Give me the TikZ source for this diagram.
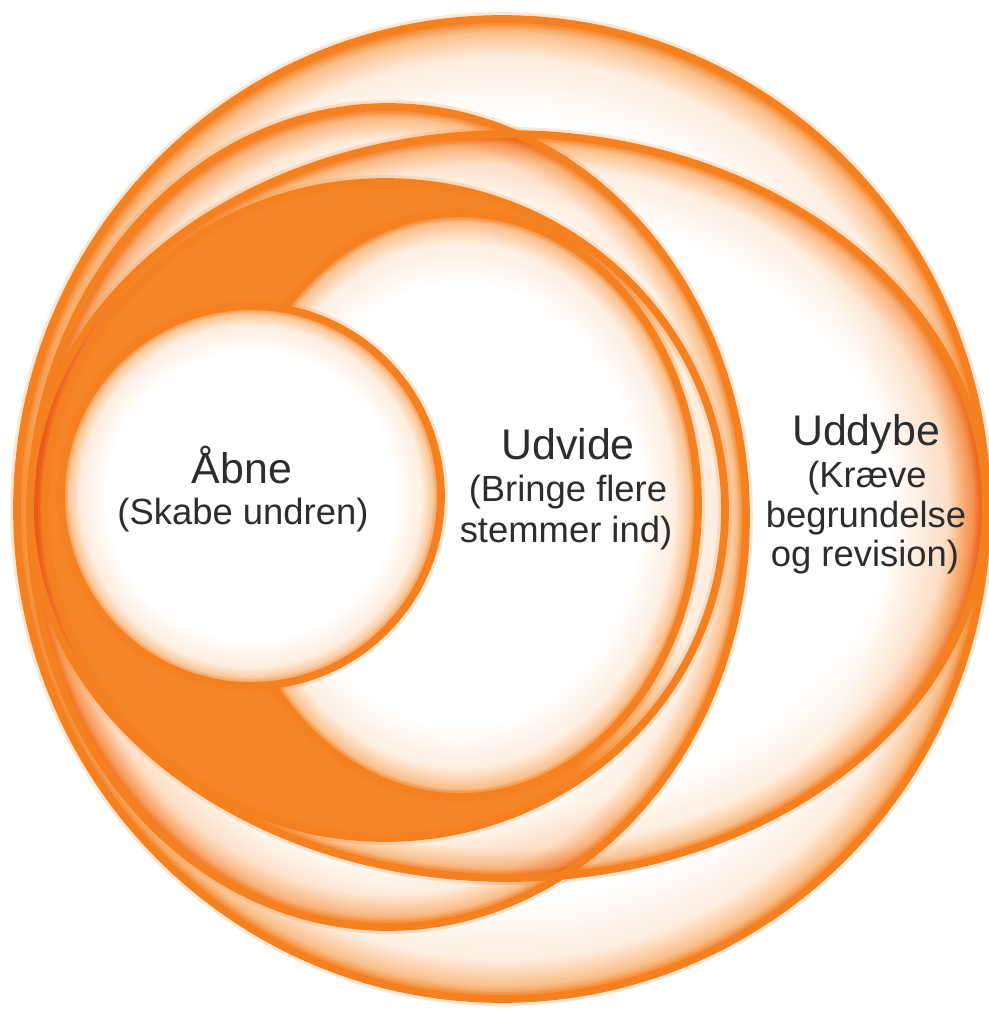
\documentclass[tikz,border=0pt]{standalone}
\usepackage{fontspec}
\setmainfont{Liberation Sans}
\definecolor{rimO}{RGB}{244,128,32}
\definecolor{rimM}{RGB}{250,192,140}
\definecolor{rimL}{RGB}{254,238,224}
\definecolor{bandD}{RGB}{245,134,40}
\definecolor{bandL}{RGB}{250,190,135}
\definecolor{txt}{RGB}{45,45,45}
\pgfdeclareradialshading{rimshade}{\pgfpointorigin}{%
  color(0bp)=(white); color(20bp)=(white); color(23bp)=(rimL);
  color(24.3bp)=(rimM); color(25bp)=(rimO); color(50bp)=(rimO)}
\pgfdeclareradialshading{smallrim}{\pgfpointorigin}{%
  color(0bp)=(white); color(19bp)=(white); color(22.5bp)=(rimL);
  color(24.2bp)=(rimM); color(25bp)=(rimO); color(50bp)=(rimO)}
\pgfdeclarehorizontalshading{bandshade}{100bp}{%
  color(0bp)=(bandD); color(64bp)=(bandD); color(69bp)=(bandL);
  color(72bp)=(rimL); color(100bp)=(rimL)}
\begin{document}
\begin{tikzpicture}[x=0.025cm,y=-0.025cm,
  outline/.style={draw=rimO, line width=5.5pt},
  halo/.style={draw=rimO, line width=10pt, draw opacity=0.18},
  rimfill/.style={shade, shading=rimshade},
  smallfill/.style={shade, shading=smallrim},
  bandfill/.style={shade, shading=bandshade},
  title/.style={font=\fontsize{30.5}{36}\selectfont, text=txt, anchor=base, inner sep=0pt},
  sub/.style={font=\fontsize{25.9}{31}\selectfont, text=txt, anchor=base, inner sep=0pt}]
\fill[white] (0,0) rectangle (989,1009);
\path[use as bounding box] (0,0) rectangle (989,1009);
% outer circle
\path[rimfill] (502,509) ellipse [x radius=485, y radius=490];
% second and third rings, layered
\begin{scope}[blend mode=multiply]
  \path[rimfill] (388,517) ellipse [x radius=358, y radius=410];
  \path[rimfill] (508,506) ellipse [x radius=478, y radius=372];
\end{scope}
% outlines of the three large shapes
\foreach \cx/\cy/\rx/\ry in {502/509/485/490, 388/517/358/410, 508/506/478/372}{
  \draw[halo] (\cx,\cy) ellipse [x radius=\rx, y radius=\ry];
  \draw[outline] (\cx,\cy) ellipse [x radius=\rx, y radius=\ry];
}
% Udvide band
\path[bandfill] (385,510) ellipse [x radius=340, y radius=328];
\draw[halo] (385,510) ellipse [x radius=340, y radius=328];
\draw[outline] (385,510) ellipse [x radius=340, y radius=328];
% Udvide inner area
\path[smallfill] (460,505) ellipse [x radius=238, y radius=292];
\draw[halo] (460,505) ellipse [x radius=238, y radius=292];
\draw[outline] (460,505) ellipse [x radius=238, y radius=292];
% Aabne circle
\path[smallfill] (251,496) circle [radius=190];
\draw[halo] (251,496) circle [radius=190];
\draw[outline] (251,496) circle [radius=190];
% texts
\node[title] (abne) at (242,483) {Åbne};
\node[sub] (abnes) at (243,524) {(Skabe undren)};
\node[title] (udvide) at (568,459) {Udvide};
\node[sub] (udvidesa) at (568,501) {(Bringe flere};
\node[sub] (udvidesb) at (566,542) {stemmer ind)};
\node[title] (uddybe) at (866,445) {Uddybe};
\node[sub] (uddybesa) at (867,487) {(Kræve};
\node[sub] (uddybesb) at (866,527) {begrundelse};
\node[sub] (uddybesc) at (865,566) {og revision)};
\end{tikzpicture}
\end{document}
